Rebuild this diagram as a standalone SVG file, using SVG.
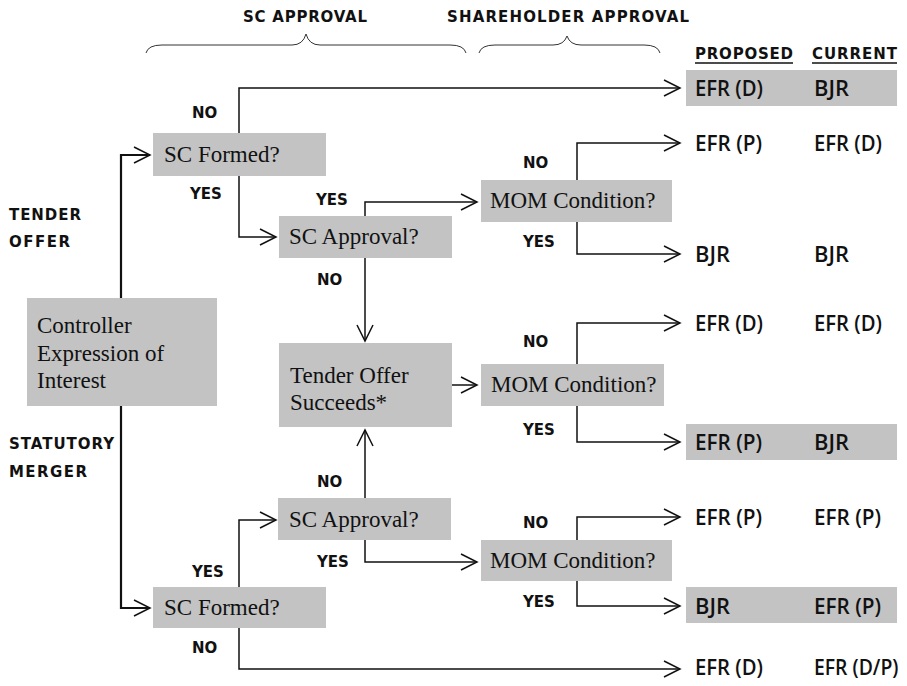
<svg xmlns="http://www.w3.org/2000/svg" width="907" height="686" viewBox="0 0 907 686">
<defs>
<marker id="ah" viewBox="-18 -10 20 20" markerWidth="20" markerHeight="20" refX="0" refY="0" orient="auto" markerUnits="userSpaceOnUse">
<path d="M-16,-8 L0,0 L-16,8" fill="none" stroke="#111" stroke-width="1.5"/>
</marker>
<style>
.box{fill:#c3c3c3}
.nt{font-family:"Liberation Serif","Times New Roman",serif;font-size:23px;fill:#111}
.lb{font-family:"DejaVu Sans",sans-serif;font-weight:bold;font-size:15px;fill:#111}
.oc{font-family:"Open Sans","Noto Sans",sans-serif;font-weight:600;font-size:22px;fill:#111}
.cn{fill:none;stroke:#111;stroke-width:1.5}
.tr{fill:none;stroke:#111;stroke-width:2.2}
.br{fill:none;stroke:#333;stroke-width:1}
.ul{stroke:#111;stroke-width:1.6}
</style>
</defs>
<rect width="907" height="686" fill="#fff"/>
<g id="headers">
<text class="lb" x="305" y="22" text-anchor="middle" textLength="124" lengthAdjust="spacing">SC APPROVAL</text>
<text class="lb" x="568" y="22" text-anchor="middle" textLength="242" lengthAdjust="spacing">SHAREHOLDER APPROVAL</text>
<path class="br" d="M146,53 Q148,45 162,45 L292,45 Q303,45 306,34 Q309,45 320,45 L450,45 Q464,45 466,53"/>
<path class="br" d="M479,53 Q481,45 495,45 L553,45 Q564,45 567,36 Q570,45 581,45 L644,45 Q658,45 660,53"/>
<text class="lb" x="695" y="59" textLength="98" lengthAdjust="spacing">PROPOSED</text>
<text class="lb" x="812" y="59" textLength="85" lengthAdjust="spacing">CURRENT</text>
<line class="ul" x1="695" y1="63" x2="793" y2="63"/>
<line class="ul" x1="812" y1="63" x2="897" y2="63"/>
<text class="lb" x="9" y="220" textLength="72" lengthAdjust="spacing">TENDER</text>
<text class="lb" x="9" y="247" textLength="61" lengthAdjust="spacing">OFFER</text>
<text class="lb" x="9" y="449" textLength="105" lengthAdjust="spacing">STATUTORY</text>
<text class="lb" x="9" y="477" textLength="78" lengthAdjust="spacing">MERGER</text>
</g>
<g id="connectors">
<path class="tr" d="M121,298 L121,155 L150,155" marker-end="url(#ah)"/>
<path class="tr" d="M121,406 L121,608 L150,608" marker-end="url(#ah)"/>
<path class="cn" d="M239,133 L239,88 L680,88" marker-end="url(#ah)"/>
<path class="cn" d="M239,176 L239,237 L276,237" marker-end="url(#ah)"/>
<path class="cn" d="M365,216 L365,202 L477,202" marker-end="url(#ah)"/>
<path class="cn" d="M577,180 L577,143 L680,143" marker-end="url(#ah)"/>
<path class="cn" d="M577,222 L577,254 L680,254" marker-end="url(#ah)"/>
<path class="cn" d="M365,258 L365,341" marker-end="url(#ah)"/>
<path class="cn" d="M452,385 L477,385" marker-end="url(#ah)"/>
<path class="cn" d="M577,364 L577,323 L680,323" marker-end="url(#ah)"/>
<path class="cn" d="M577,406 L577,442 L680,442" marker-end="url(#ah)"/>
<path class="cn" d="M365,498 L365,430" marker-end="url(#ah)"/>
<path class="cn" d="M365,540 L365,562 L477,562" marker-end="url(#ah)"/>
<path class="cn" d="M577,540 L577,517 L680,517" marker-end="url(#ah)"/>
<path class="cn" d="M577,581 L577,606 L680,606" marker-end="url(#ah)"/>
<path class="cn" d="M239,587 L239,520 L276,520" marker-end="url(#ah)"/>
<path class="cn" d="M239,628 L239,669 L680,669" marker-end="url(#ah)"/>
</g>
<g id="labels">
<text class="lb" x="192" y="118">NO</text>
<text class="lb" x="190" y="199">YES</text>
<text class="lb" x="316" y="205">YES</text>
<text class="lb" x="317" y="285">NO</text>
<text class="lb" x="523" y="168">NO</text>
<text class="lb" x="523" y="247">YES</text>
<text class="lb" x="523" y="347">NO</text>
<text class="lb" x="523" y="435">YES</text>
<text class="lb" x="317" y="487">NO</text>
<text class="lb" x="317" y="567">YES</text>
<text class="lb" x="523" y="528">NO</text>
<text class="lb" x="523" y="607">YES</text>
<text class="lb" x="192" y="577">YES</text>
<text class="lb" x="192" y="653">NO</text>
</g>
<g id="ctrl">
<rect class="box" x="27" y="298" width="190" height="108"/>
<text class="nt" x="37" y="333">Controller</text>
<text class="nt" x="37" y="361">Expression of</text>
<text class="nt" x="37" y="388">Interest</text>
</g>
<g id="scf1">
<rect class="box" x="153" y="133" width="173" height="43"/>
<text class="nt" x="164" y="162">SC Formed?</text>
</g>
<g id="sca1">
<rect class="box" x="279" y="216" width="173" height="42"/>
<text class="nt" x="289" y="244">SC Approval?</text>
</g>
<g id="mom1">
<rect class="box" x="481" y="180" width="191" height="42"/>
<text class="nt" x="490" y="208">MOM Condition?</text>
</g>
<g id="tos">
<rect class="box" x="279" y="343" width="173" height="84"/>
<text class="nt" x="290" y="383">Tender Offer</text>
<text class="nt" x="290" y="410">Succeeds*</text>
</g>
<g id="mom2">
<rect class="box" x="481" y="364" width="183" height="42"/>
<text class="nt" x="491" y="392">MOM Condition?</text>
</g>
<g id="sca2">
<rect class="box" x="278" y="498" width="173" height="42"/>
<text class="nt" x="289" y="527">SC Approval?</text>
</g>
<g id="mom3">
<rect class="box" x="481" y="540" width="191" height="41"/>
<text class="nt" x="490" y="568">MOM Condition?</text>
</g>
<g id="scf2">
<rect class="box" x="153" y="587" width="173" height="41"/>
<text class="nt" x="164" y="615">SC Formed?</text>
</g>
<g id="out1">
<rect class="box" x="686" y="70" width="211" height="36"/>
<text class="oc" x="695" y="96" textLength="68" lengthAdjust="spacingAndGlyphs">EFR (D)</text>
<text class="oc" x="814" y="96" textLength="35" lengthAdjust="spacingAndGlyphs">BJR</text>
</g>
<g id="out2">
<text class="oc" x="695" y="151" textLength="67" lengthAdjust="spacingAndGlyphs">EFR (P)</text>
<text class="oc" x="814" y="151" textLength="68" lengthAdjust="spacingAndGlyphs">EFR (D)</text>
</g>
<g id="out3">
<text class="oc" x="695" y="262" textLength="35" lengthAdjust="spacingAndGlyphs">BJR</text>
<text class="oc" x="814" y="262" textLength="35" lengthAdjust="spacingAndGlyphs">BJR</text>
</g>
<g id="out4">
<text class="oc" x="695" y="331" textLength="68" lengthAdjust="spacingAndGlyphs">EFR (D)</text>
<text class="oc" x="814" y="331" textLength="68" lengthAdjust="spacingAndGlyphs">EFR (D)</text>
</g>
<g id="out5">
<rect class="box" x="686" y="424" width="211" height="36"/>
<text class="oc" x="695" y="450" textLength="67" lengthAdjust="spacingAndGlyphs">EFR (P)</text>
<text class="oc" x="814" y="450" textLength="35" lengthAdjust="spacingAndGlyphs">BJR</text>
</g>
<g id="out6">
<text class="oc" x="695" y="525" textLength="67" lengthAdjust="spacingAndGlyphs">EFR (P)</text>
<text class="oc" x="814" y="525" textLength="67" lengthAdjust="spacingAndGlyphs">EFR (P)</text>
</g>
<g id="out7">
<rect class="box" x="686" y="587" width="211" height="36"/>
<text class="oc" x="695" y="614" textLength="35" lengthAdjust="spacingAndGlyphs">BJR</text>
<text class="oc" x="814" y="614" textLength="67" lengthAdjust="spacingAndGlyphs">EFR (P)</text>
</g>
<g id="out8">
<text class="oc" x="695" y="675" textLength="68" lengthAdjust="spacingAndGlyphs">EFR (D)</text>
<text class="oc" transform="translate(814,675) scale(0.88,1)" x="0" y="0">EFR (D/P)</text>
</g>
</svg>
